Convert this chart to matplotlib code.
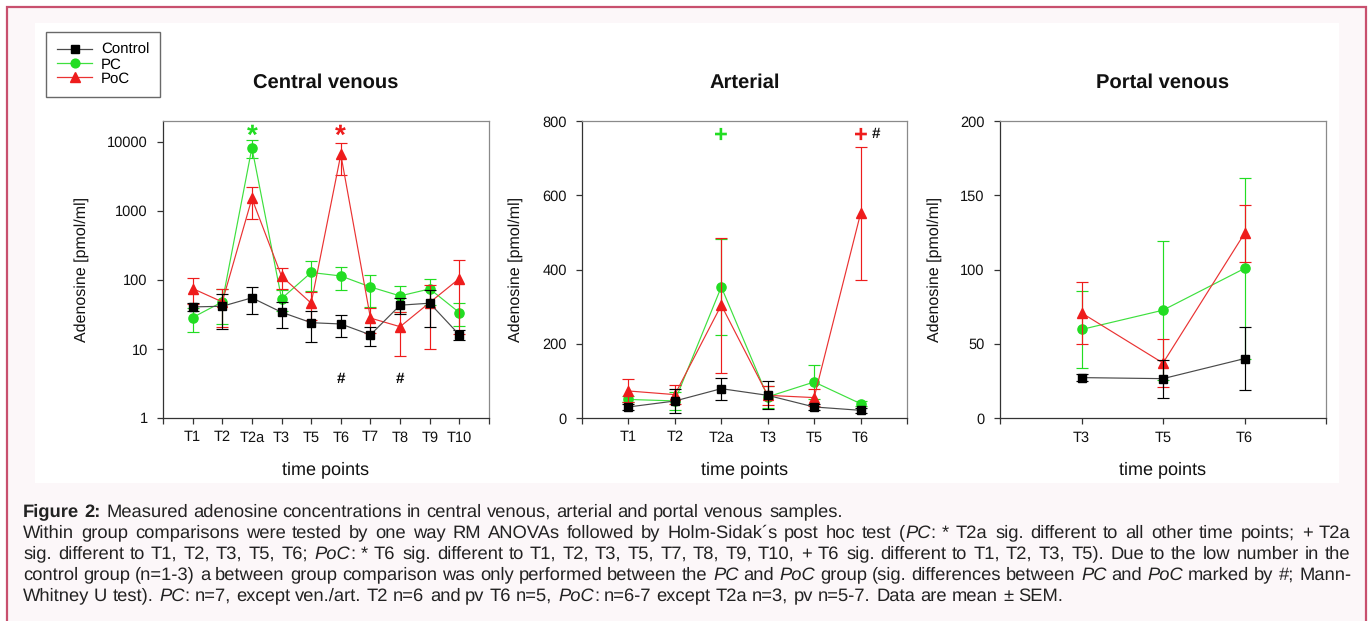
import matplotlib
matplotlib.use('Agg')
import matplotlib.pyplot as plt
import matplotlib.transforms as mtransforms
import numpy as np
from matplotlib.patches import Rectangle
from matplotlib.lines import Line2D
from matplotlib.ticker import NullLocator, FixedLocator

plt.rcParams['font.family'] = ['Liberation Sans', 'DejaVu Sans']
plt.rcParams['text.hinting'] = 'no_hinting'

W, H = 1368, 621

# ---------------- data ----------------
cv_labels = ['T1', 'T2', 'T2a', 'T3', 'T5', 'T6', 'T7', 'T8', 'T9', 'T10']
cv_control = [40.6, 41.5, 55, 34, 24, 23, 16, 43, 46, 16]
cv_control_err = [5, 22, 23, 14, 11.5, 8, 4.8, 11, 25, 2.5]
cv_pc = [28.5, 48, 8190, 53.6, 128, 114, 79, 58.6, 74, 33.6]
cv_pc_err = [11, 25, 2300, 18, 60, 42, 38, 24, 30, 12]
cv_poc = [75, 48, 1510, 113, 46, 6550, 28, 21, 47, 104.6]
cv_poc_err = [30, 27, 740, 38, 20, 3200, 11, 13, 37, 88]

art_labels = ['T1', 'T2', 'T2a', 'T3', 'T5', 'T6']
art_control = [29.7, 45.8, 79, 61, 29.7, 20.7]
art_control_err = [9, 31, 30, 38, 8, 6]
art_pc = [50, 46, 353, 57, 97, 38.6]
art_pc_err = [8, 25, 130, 30, 47, 7]
art_poc = [72.8, 63, 304, 61, 55, 551]
art_poc_err = [31, 25, 182, 25, 22, 178]

pv_labels = ['T3', 'T5', 'T6']
pv_control = [27.2, 26.5, 40]
pv_control_err = [2.5, 12.8, 21]
pv_pc = [59.6, 72.6, 100.7]
pv_pc_err = [25.6, 46.7, 61]
pv_poc = [70.8, 37, 124.3]
pv_poc_err = [21, 16, 19]

group_names = ['Control', 'PC', 'PoC']

# significance marks: (time point, y value, symbol, group)
cv_marks = [('T2a', 14000, '*', 'PC'), ('T6', 14000, '*', 'PoC'),
            ('T6', 3.6, '#', 'Control'), ('T8', 3.6, '#', 'Control')]
art_marks = [('T2a', 764, '+', 'PC'), ('T6', 764, '+', 'PoC')]
art_hash = [('T6', 764, '#')]

panel_titles = ['Central venous', 'Arterial', 'Portal venous']

# ---------------- styles ----------------
COL = {'Control': '#000000', 'PC': '#22dd22', 'PoC': '#ee1c1c'}
LINE_COL = {'Control': '#4a4a4a', 'PC': '#3ee03e', 'PoC': '#ea3232'}
MRK = {'Control': 's', 'PC': 'o', 'PoC': '^'}
MS = {'Control': 6.0, 'PC': 6.6, 'PoC': 6.9}

fig = plt.figure(figsize=(W / 100, H / 100), dpi=100)
fig.patch.set_facecolor('white')

# page frame
fig.add_artist(Rectangle((7 / W, -0.2), (1366 - 7) / W, 1.2 - 7 / H,
                         transform=fig.transFigure, fc='#fcf7f9',
                         ec='#c8506e', lw=1.6, zorder=-10))
fig.add_artist(Rectangle((35 / W, 1 - 483 / H), (1339 - 35) / W, (483 - 23) / H,
                         transform=fig.transFigure, fc='white', ec='none',
                         zorder=-9))


def px_axes(l, r, t, b):
    return fig.add_axes([l / W, 1 - b / H, (r - l) / W, (b - t) / H])


def draw_panel(ax, labels, data, title):
    n = len(labels)
    x = np.arange(1, n + 1)
    for g in ['PC', 'PoC', 'Control']:
        vals, errs = data[g]
        ax.errorbar(x, vals, yerr=errs, color=LINE_COL[g], ecolor=COL[g],
                    marker=MRK[g], ms=MS[g], mfc=COL[g], mec=COL[g], lw=0.85,
                    elinewidth=0.85, capsize=4.5, capthick=0.85,
                    zorder={'PC': 3, 'PoC': 4, 'Control': 5}[g])
    ax.set_xlim(0, n + 1)
    ax.set_xticks(x)
    ax.set_xticklabels(labels)
    ax.set_xticks([0, n + 1], minor=True)
    ax.set_facecolor('none')
    for s in ['left', 'bottom']:
        ax.spines[s].set_color('#333333')
        ax.spines[s].set_linewidth(0.9)
    for s in ['top', 'right']:
        ax.spines[s].set_color('#8a8a8a')
        ax.spines[s].set_linewidth(0.9)
    ax.tick_params(which='both', direction='out', length=4, width=0.9,
                   color='#333333', labelsize=10.5, labelcolor='#111111')
    ax.tick_params(axis='y', pad=7)
    ax.tick_params(axis='x', pad=5)
    ax.set_xlabel('time points', fontsize=13, color='#111111')
    ax.set_ylabel('Adenosine [pmol/ml]', fontsize=11.5, color='#111111')
    ax.text(0.5, 1 + (121 - 83) / 297, title, transform=ax.transAxes,
            ha='center', va='center', fontsize=14.5, fontweight='bold',
            color='#111111')


# Central venous
ax1 = px_axes(163, 489, 121, 418)
draw_panel(ax1, cv_labels, {'Control': (cv_control, cv_control_err),
                            'PC': (cv_pc, cv_pc_err),
                            'PoC': (cv_poc, cv_poc_err)}, panel_titles[0])
ax1.set_yscale('log')
ax1.set_ylim(1, 20000)
ax1.yaxis.set_major_locator(FixedLocator([1, 10, 100, 1000, 10000]))
ax1.set_yticklabels(['1', '10', '100', '1000', '10000'])
ax1.yaxis.set_minor_locator(NullLocator())
ax1.yaxis.set_label_coords((82 - 163) / 326, 0.5)
star_tr = mtransforms.offset_copy(ax1.transData, fig=fig, x=0, y=-5, units='dots')
for lab, yv, sym, g in cv_marks:
    xi = cv_labels.index(lab) + 1
    if sym == '*':
        ax1.text(xi, yv, sym, ha='center', va='center', fontsize=20,
                 fontweight='bold', color=COL[g], transform=star_tr)
    else:
        ax1.text(xi, yv, sym, ha='center', va='center', fontsize=11,
                 fontweight='bold', color=COL[g])

# Arterial
ax2 = px_axes(582, 907, 121, 418)
draw_panel(ax2, art_labels, {'Control': (art_control, art_control_err),
                             'PC': (art_pc, art_pc_err),
                             'PoC': (art_poc, art_poc_err)}, panel_titles[1])
ax2.set_ylim(0, 800)
ax2.set_yticks([0, 200, 400, 600, 800])
ax2.yaxis.set_label_coords((516 - 582) / 325, 0.5)
plus_tr = mtransforms.offset_copy(ax2.transData, fig=fig, x=0, y=-1, units='dots')
for lab, yv, sym, g in art_marks:
    xi = art_labels.index(lab) + 1
    ax2.text(xi, yv, sym, ha='center', va='center', fontsize=17,
             fontweight='bold', color=COL[g], transform=plus_tr)
for lab, yv, sym in art_hash:
    xi = art_labels.index(lab) + 1
    ax2.text(xi + 0.34, yv, sym, ha='center', va='center', fontsize=11,
             fontweight='bold', color='#111111')

# Portal venous
ax3 = px_axes(1000, 1326, 121, 418)
draw_panel(ax3, pv_labels, {'Control': (pv_control, pv_control_err),
                            'PC': (pv_pc, pv_pc_err),
                            'PoC': (pv_poc, pv_poc_err)}, panel_titles[2])
ax3.set_ylim(0, 200)
ax3.set_yticks([0, 50, 100, 150, 200])
ax3.yaxis.set_label_coords((935 - 1000) / 326, 0.5)

for ax in (ax1, ax2, ax3):
    ax.yaxis.label.set_va('center')
    ax.xaxis.set_label_coords(0.5, (418 - 470) / 297)
    ax.xaxis.label.set_va('center')

# legend
handles = [Line2D([], [], color=LINE_COL[g], marker=MRK[g], ms=MS[g] - 0.3,
                  lw=0.9, mfc=COL[g], mec=COL[g]) for g in group_names]
leg = fig.legend(handles, group_names, loc='upper left',
                 bbox_to_anchor=(46 / W, 1 - 32 / H), frameon=True,
                 fancybox=False, fontsize=10.8, handlelength=2.3,
                 borderpad=0.75, labelspacing=0.02, handletextpad=0.6,
                 borderaxespad=0)
leg.get_frame().set_edgecolor('#444444')
leg.get_frame().set_linewidth(1.0)

# ---------------- caption ----------------
cap_lines = [
    [('Figure 2:', 'bold'),
     (' Measured adenosine concentrations in central venous, arterial and portal venous samples.', 'normal')],
    [('Within group comparisons were tested by one way RM ANOVAs followed by Holm-Sidak\u00b4s post hoc test (', 'normal'),
     ('PC', 'italic'), (': * T2a sig. different to all other time points; + T2a', 'normal')],
    [('sig. different to T1, T2, T3, T5, T6; ', 'normal'), ('PoC', 'italic'),
     (': * T6 sig. different to T1, T2, T3, T5, T7, T8, T9, T10, + T6 sig. different to T1, T2, T3, T5). Due to the low number in the', 'normal')],
    [('control group (n=1-3) a between group comparison was only performed between the ', 'normal'),
     ('PC', 'italic'), (' and ', 'normal'), ('PoC', 'italic'),
     (' group (sig. differences between ', 'normal'), ('PC', 'italic'),
     (' and ', 'normal'), ('PoC', 'italic'), (' marked by #; Mann-', 'normal')],
    [('Whitney U test). ', 'normal'), ('PC', 'italic'),
     (': n=7, except ven./art. T2 n=6 and pv T6 n=5, ', 'normal'),
     ('PoC', 'italic'), (': n=6-7 except T2a n=3, pv n=5-7. Data are mean \u00b1 SEM.', 'normal')],
]
cap_justify = [False, True, True, True, False]
cap_baselines = [517, 538, 559, 580, 601]
CAP_L, CAP_R = 23, 1351


def style_kw(style):
    if style == 'bold':
        return dict(fontweight='bold')
    if style == 'italic':
        return dict(fontstyle='italic')
    return {}


renderer = fig.canvas.get_renderer()


def measure(s, style, fs):
    t = fig.text(0, 0, s, fontsize=fs, **style_kw(style))
    w = t.get_window_extent(renderer).width
    t.remove()
    return w


def baseline_shift(s, style, fs, yb):
    """Whole-pixel correction so every word lands on the same baseline row."""
    try:
        from matplotlib.backends.backend_agg import get_hinting_flag
        t = fig.text(0, 0, s, fontsize=fs, **style_kw(style))
        font = renderer._prepare_font(t.get_fontproperties())
        t.remove()
        font.set_text(s, 0, flags=get_hinting_flag())
        d26 = font.get_descent()
        h26 = font.get_width_height()[1]
        d = d26 / 64.0
        floor_h = h26 // 64
        floor_ymax = (h26 - d26) // 64
        delta = round(yb + d) - floor_h + floor_ymax - yb
        if abs(delta) > 2:
            return 0
        return -delta
    except Exception:
        return 0


def split_words(segs):
    words = [[]]
    for text, style in segs:
        parts = text.split(' ')
        for i, p in enumerate(parts):
            if i > 0:
                words.append([])
            if p:
                words[-1].append((p, style))
    return [w for w in words if w]


def word_width(word, fs):
    return sum(measure(s, st, fs) for s, st in word)


# fit caption font size to the justified line width
ref_words = split_words(cap_lines[1])
fs0 = 10.0
nat = sum(word_width(w, fs0) for w in ref_words) + \
    (len(ref_words) - 1) * (measure('a a', 'normal', fs0) - measure('aa', 'normal', fs0))
cap_fs = min(13.2, fs0 * (CAP_R - CAP_L) / nat * 0.985)
space_w = measure('a a', 'normal', cap_fs) - measure('aa', 'normal', cap_fs)

for segs, just, yb in zip(cap_lines, cap_justify, cap_baselines):
    words = split_words(segs)
    widths = [word_width(w, cap_fs) for w in words]
    if just and len(words) > 1:
        gap = (CAP_R - CAP_L - sum(widths)) / (len(words) - 1)
    else:
        gap = space_w
    x = CAP_L
    for w, ww in zip(words, widths):
        xx = x
        for s, st in w:
            ybb = yb + baseline_shift(s, st, cap_fs, yb)
            fig.text(round(xx) / W, (H - ybb) / H, s, fontsize=cap_fs,
                     ha='left', va='baseline', color='#222222',
                     **style_kw(st))
            xx += measure(s, st, cap_fs)
        x += ww + gap

fig.savefig('out.png', dpi=100, facecolor=fig.get_facecolor())
